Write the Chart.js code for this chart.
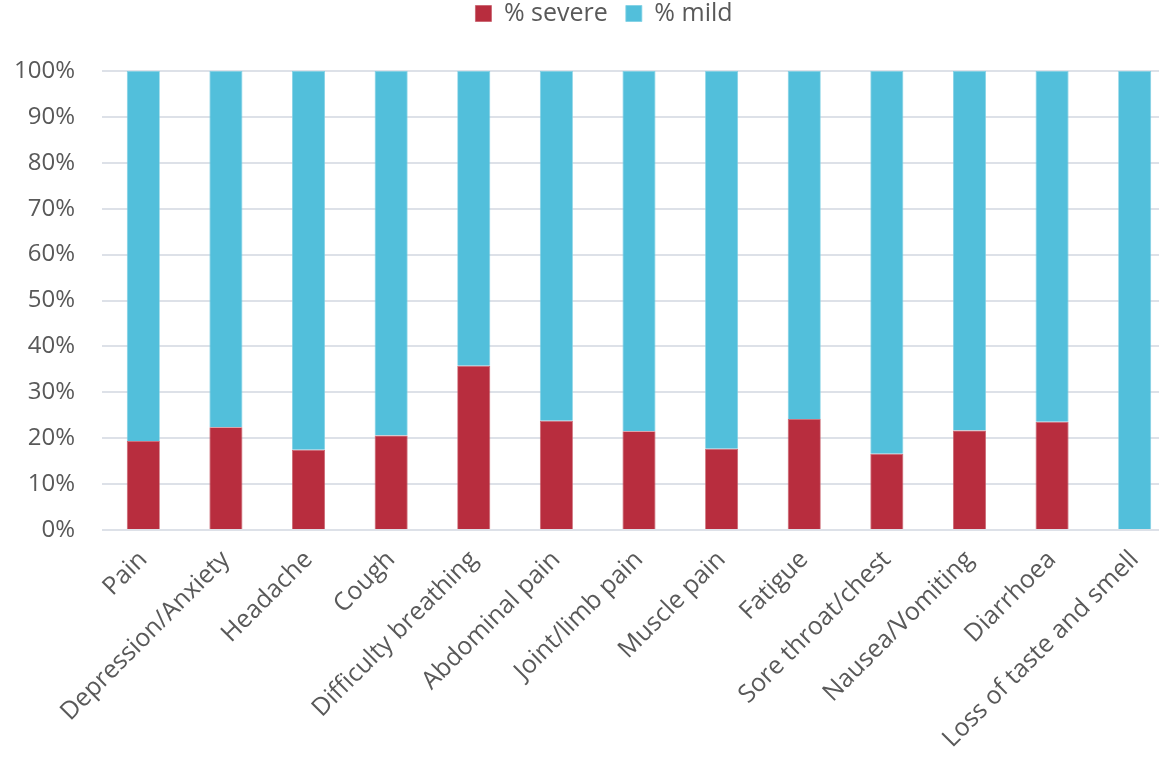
<!DOCTYPE html>
<html><head><meta charset="utf-8">
<script src="https://cdn.jsdelivr.net/npm/chart.js@4/dist/chart.umd.min.js"></script>
<style>html,body{margin:0;padding:0;background:#fff;overflow:hidden;width:1159px;height:759px}#wrap{width:1176px;height:759px;position:relative}</style>
</head><body><div id="wrap"><canvas id="c"></canvas></div>
<script>
const categories = ["Pain","Depression/Anxiety","Headache","Cough","Difficulty breathing","Abdominal pain","Joint/limb pain","Muscle pain","Fatigue","Sore throat/chest","Nausea/Vomiting","Diarrhoea","Loss of taste and smell"];
const severe = [19.4,22.4,17.5,20.6,35.8,23.8,21.5,17.7,24.2,16.6,21.7,23.6,0];
const mild = severe.map(v => 100 - v);
const yTicks = [0,10,20,30,40,50,60,70,80,90,100];
const FONT = "'Open Sans', 'Noto Sans', sans-serif";
new Chart(document.getElementById('c'), {
  type: 'bar',
  data: {
    labels: categories,
    datasets: [
      {label: '% severe', data: severe, backgroundColor: '#b82d3e', borderColor: '#c8606c', borderWidth: 0.8, barPercentage: 0.4, categoryPercentage: 1},
      {label: '% mild', data: mild, backgroundColor: '#52bfdb', borderColor: '#7fd0e4', borderWidth: 0.8, barPercentage: 0.4, categoryPercentage: 1}
    ]
  },
  options: {
    responsive: true, maintainAspectRatio: false, animation: false,
    layout: {padding: 0},
    plugins: {
      legend: {position: 'top', labels: {font: {family: FONT, size: 25}, color: '#595959', boxWidth: 16, boxHeight: 16, padding: 18}},
      tooltip: {enabled: false}
    },
    scales: {
      x: {stacked: true, grid: {display: false}, border: {display: false},
        ticks: {font: {family: FONT, size: 25}, color: '#595959', maxRotation: 45, minRotation: 45, autoSkip: false, padding: 7},
        afterFit(s){ s.height = 229; }},
      y: {stacked: true, min: 0, max: 100, afterBuildTicks(s){ s.ticks = yTicks.map(v => ({value: v})); },
        grid: {color: '#dde1e8', lineWidth: 2, drawTicks: false}, border: {display: false},
        ticks: {font: {family: FONT, size: 24}, color: '#595959', padding: 27, callback: v => v + '%'},
        afterFit(s){ s.width = 102; }}
    }
  },
  plugins: [{id:'legendH', afterInit(chart){
    const lg = chart.legend; const f = lg.fit; const d = lg.draw;
    lg.fit = function(){ f.call(this); this.height = 71; };
    lg.draw = function(){
      const t = this.top, l = this.left, r = this.right;
      this.top = t - 17; this.left = l + 16; this.right = r + 16;
      d.call(this);
      this.top = t; this.left = l; this.right = r;
    };
  }}]
});
</script></body></html>
